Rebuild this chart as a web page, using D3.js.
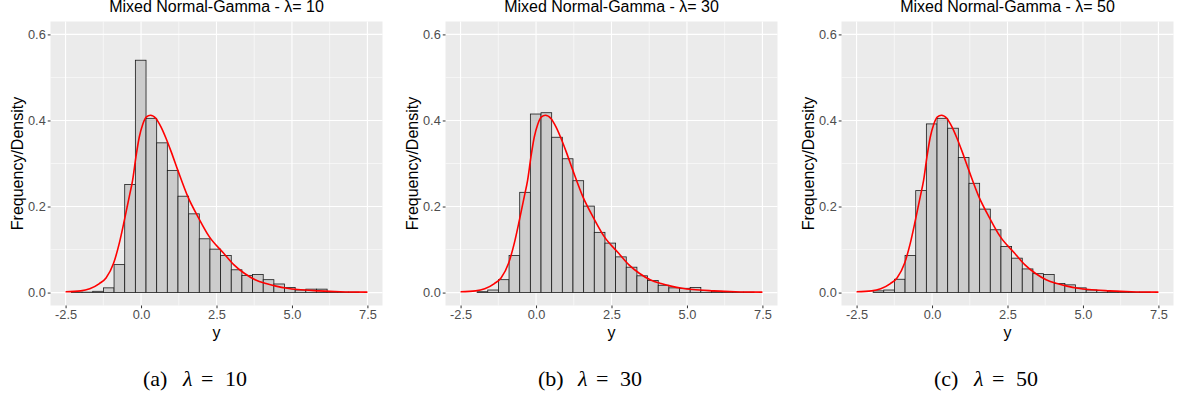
<!DOCTYPE html>
<html>
<head>
<meta charset="utf-8">
<script src="https://cdn.jsdelivr.net/npm/d3@7"></script>
<style>
	body { margin: 0; background: #fff; }
	svg { display: block; }
</style>
</head>
<body>
<div id="chart"></div>
<script>
// histogram bins (same breaks in every panel)
const binLeft = -2.306
const binWidth = 0.353

const lambdas = [10, 30, 50]
const captionLetters = ["a", "b", "c"]

const heights10 = [0.001, 0.001, 0.003, 0.011, 0.065, 0.251, 0.540, 0.405, 0.348, 0.284, 0.224, 0.183, 0.125, 0.101, 0.086, 0.053, 0.040, 0.042, 0.030, 0.020, 0.012, 0.006, 0.008, 0.008, 0.002, 0.001, 0.001]
const heights30 = [0.000, 0.002, 0.006, 0.030, 0.086, 0.233, 0.415, 0.418, 0.361, 0.311, 0.260, 0.201, 0.140, 0.115, 0.083, 0.059, 0.039, 0.028, 0.017, 0.011, 0.010, 0.012, 0.005, 0.003, 0.001, 0.001, 0.001]
const heights50 = [0.000, 0.004, 0.006, 0.031, 0.086, 0.237, 0.392, 0.405, 0.382, 0.314, 0.254, 0.194, 0.146, 0.107, 0.080, 0.055, 0.044, 0.042, 0.021, 0.018, 0.011, 0.006, 0.005, 0.003, 0.001, 0.001, 0.001]

// red density curve
const curveX = [-2.5, -2.0, -1.7, -1.38, -1.16, -0.91, -0.72, -0.55, -0.39, -0.28, -0.17, -0.06, 0.06, 0.17, 0.31, 0.5, 0.66, 0.83, 1.0, 1.22, 1.55, 1.91, 2.26, 2.73, 3.07, 3.42, 3.78, 4.14, 4.47, 4.84, 5.19, 5.89, 6.6, 7.5]
const curveY = [0.002, 0.004, 0.009, 0.021, 0.034, 0.068, 0.115, 0.169, 0.223, 0.261, 0.315, 0.361, 0.392, 0.408, 0.412, 0.404, 0.385, 0.358, 0.327, 0.284, 0.223, 0.173, 0.130, 0.092, 0.065, 0.045, 0.030, 0.021, 0.015, 0.010, 0.007, 0.004, 0.002, 0.001]

const xTicks = [-2.5, 0, 2.5, 5, 7.5]
const xMinor = [-1.25, 1.25, 3.75, 6.25]
const yTicks = [0, 0.2, 0.4, 0.6]
const yMinor = [0.1, 0.3, 0.5]

const panels = [
	{ lambda: lambdas[0], letter: captionLetters[0], heights: heights10 },
	{ lambda: lambdas[1], letter: captionLetters[1], heights: heights30 },
	{ lambda: lambdas[2], letter: captionLetters[2], heights: heights50 },
]
const offsets = [0, 395, 791]

const width = 1182
const height = 399

const svg = d3
	.select("#chart")
	.append("svg")
	.attr("width", width)
	.attr("height", height)

svg.append("rect").attr("width", width).attr("height", height).attr("fill", "#fff")

const x = d3.scaleLinear().domain([-3, 8]).range([50.5, 382.5])
const y = d3.scaleLinear().domain([-0.03, 0.63]).range([305.5, 21.5])

const sans = "'Liberation Sans', Arial, sans-serif"
const serif = "'Liberation Serif', 'Times New Roman', serif"

const line = d3
	.line()
	.x((d) => x(d[0]))
	.y((d) => y(d[1]))
	.curve(d3.curveMonotoneX)

panels.forEach((p, i) => {
	const g = svg.append("g").attr("transform", `translate(${offsets[i]},0)`)
	const [x0, x1] = x.range()
	const [y0, y1] = y.range()

	// panel background
	g.append("rect")
		.attr("x", x0)
		.attr("y", y1)
		.attr("width", x1 - x0)
		.attr("height", y0 - y1)
		.attr("fill", "#EBEBEB")

	// grid lines
	g.selectAll(".xminor")
		.data(xMinor)
		.join("line")
		.attr("x1", (d) => x(d))
		.attr("x2", (d) => x(d))
		.attr("y1", y1)
		.attr("y2", y0)
		.attr("stroke", "#fff")
		.attr("stroke-width", 0.55)
	g.selectAll(".yminor")
		.data(yMinor)
		.join("line")
		.attr("x1", x0)
		.attr("x2", x1)
		.attr("y1", (d) => y(d))
		.attr("y2", (d) => y(d))
		.attr("stroke", "#fff")
		.attr("stroke-width", 0.55)
	g.selectAll(".xmajor")
		.data(xTicks)
		.join("line")
		.attr("x1", (d) => x(d))
		.attr("x2", (d) => x(d))
		.attr("y1", y1)
		.attr("y2", y0)
		.attr("stroke", "#fff")
		.attr("stroke-width", 1.1)
	g.selectAll(".ymajor")
		.data(yTicks)
		.join("line")
		.attr("x1", x0)
		.attr("x2", x1)
		.attr("y1", (d) => y(d))
		.attr("y2", (d) => y(d))
		.attr("stroke", "#fff")
		.attr("stroke-width", 1.1)

	// histogram bars
	g.selectAll(".bar")
		.data(p.heights)
		.join("rect")
		.attr("x", (d, k) => x(binLeft + k * binWidth))
		.attr("width", (d, k) => x(binLeft + (k + 1) * binWidth) - x(binLeft + k * binWidth))
		.attr("y", (d) => y(d))
		.attr("height", (d) => y(0) - y(d))
		.attr("fill", "#CCCCCC")
		.attr("stroke", "#1a1a1a")
		.attr("stroke-width", 0.8)

	// density curve
	g.append("path")
		.datum(curveX.map((v, k) => [v, curveY[k]]))
		.attr("fill", "none")
		.attr("stroke", "red")
		.attr("stroke-width", 1.6)
		.attr("d", line)

	// axes
	const xAxis = g
		.append("g")
		.attr("transform", `translate(0,${y0})`)
		.call(d3.axisBottom(x).tickValues(xTicks).tickFormat(d3.format(".1f")).tickSize(2.75).tickPadding(2))
	const yAxis = g
		.append("g")
		.attr("transform", `translate(${x0},0)`)
		.call(d3.axisLeft(y).tickValues(yTicks).tickFormat(d3.format(".1f")).tickSize(2.75).tickPadding(2))
	;[xAxis, yAxis].forEach((a) => {
		a.select(".domain").remove()
		a.selectAll(".tick line").attr("stroke", "#333").attr("stroke-width", 1)
		a.selectAll(".tick text")
			.attr("fill", "#4D4D4D")
			.style("font-family", sans)
			.style("font-size", "12.8px")
	})
	xAxis.selectAll(".tick text").text((d) => d3.format(".1f")(d).replace("−", "-"))

	// titles
	const cx = (x0 + x1) / 2
	g.append("text")
		.attr("x", cx)
		.attr("y", 12)
		.attr("text-anchor", "middle")
		.style("font-family", sans)
		.style("font-size", "16px")
		.attr("fill", "#000")
		.text(`Mixed Normal-Gamma - λ= ${p.lambda}`)

	g.append("text")
		.attr("x", cx)
		.attr("y", 338)
		.attr("text-anchor", "middle")
		.style("font-family", sans)
		.style("font-size", "16px")
		.attr("fill", "#000")
		.text("y")

	g.append("text")
		.attr("transform", `translate(23,${(y0 + y1) / 2}) rotate(-90)`)
		.attr("text-anchor", "middle")
		.style("font-family", sans)
		.style("font-size", "16px")
		.attr("fill", "#000")
		.text("Frequency/Density")

	// sub-figure caption
	const cap = g
		.append("text")
		.attr("y", 386)
		.style("font-family", serif)
		.style("font-size", "22px")
		.attr("fill", "#000")
	cap.append("tspan").attr("x", 143).text(`(${p.letter})`)
	cap.append("tspan").attr("x", 183).style("font-style", "italic").text("λ")
	cap.append("tspan").attr("x", 201).text("=")
	cap.append("tspan").attr("x", 225).text(`${p.lambda}`)
})
</script>
</body>
</html>
